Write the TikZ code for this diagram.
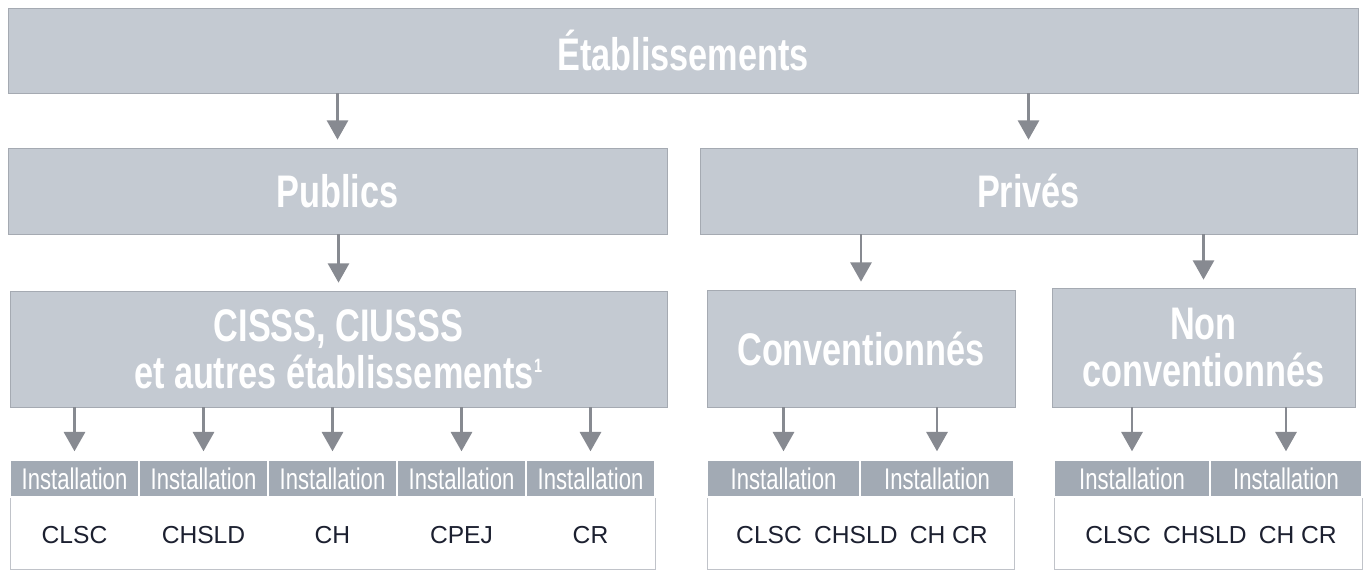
\documentclass[tikz,border=0pt]{standalone}
\usepackage{fontspec}
\setmainfont{Liberation Sans}
\newfontfamily\condfont[FakeStretch=0.75]{Liberation Sans}
\newfontfamily\instfont[FakeStretch=0.74]{Liberation Sans}
\usepackage{tikz}
\usetikzlibrary{arrows.meta}
\definecolor{boxgray}{RGB}{196,202,210}
\definecolor{hdrgray}{RGB}{162,170,180}
\definecolor{edgegray}{RGB}{165,170,178}
\definecolor{arrowgray}{RGB}{135,138,145}
\definecolor{codeblue}{RGB}{28,32,48}
\tikzset{every edge/.style={draw=arrowgray, line width=1.5pt, -{Triangle[width=12pt,length=11pt]}, shorten >=0.16cm}}

\begin{document}
\begin{tikzpicture}[
    levelbox/.style={draw=edgegray, fill=boxgray, text=white, inner sep=0pt, align=center,
      font=\condfont\bfseries\fontsize{26}{27}\selectfont},
    insthead/.style={draw=white, line width=0.8pt, fill=hdrgray, text=white, inner sep=0pt,
      minimum height=0.74cm, font=\instfont\fontsize{17}{18}\selectfont},
    instbody/.style={draw=edgegray!70, fill=white, inner sep=0pt, minimum height=1.44cm},
    code/.style={text=codeblue, font=\fontsize{14}{16}\selectfont}]
  \useasboundingbox (0,0) rectangle (27.28,-11.42);

  % levels
  \node[levelbox, minimum width=27.00cm, minimum height=1.70cm] at (13.66,-1.01) (etab) {Établissements};
  \node[levelbox, minimum width=13.18cm, minimum height=1.72cm] at (6.75,-3.82)  (pub)  {Publics};
  \node[levelbox, minimum width=13.14cm, minimum height=1.72cm] at (20.57,-3.82) (prv)  {Privés};
  \node[levelbox, minimum width=13.14cm, minimum height=2.32cm] at (6.77,-6.98)  (cis)  {CISSS, CIUSSS\\et autres établissements\textsuperscript{\fontsize{11}{11}\selectfont 1}};
  \node[levelbox, minimum width=6.16cm,  minimum height=2.34cm] at (17.22,-6.97) (conv) {Conventionnés};
  \node[levelbox, minimum width=6.06cm,  minimum height=2.38cm] at (24.07,-6.95) (ncv)  {Non\\conventionnés};

  % installations
  \node[instbody, minimum width=12.90cm] at (6.65,-10.66)  (cisbody)  {};
  \node[instbody, minimum width=6.14cm]  at (17.21,-10.66) (convbody) {};
  \node[instbody, minimum width=6.16cm]  at (24.16,-10.66) (ncvbody)  {};

  \node[insthead, minimum width=2.58cm] at (1.49,-9.57)  (i1) {Installation};
  \node[insthead, minimum width=2.58cm] at (4.07,-9.57)  (i2) {Installation};
  \node[insthead, minimum width=2.58cm] at (6.65,-9.57)  (i3) {Installation};
  \node[insthead, minimum width=2.58cm] at (9.23,-9.57)  (i4) {Installation};
  \node[insthead, minimum width=2.58cm] at (11.81,-9.57) (i5) {Installation};
  \node[insthead, minimum width=3.06cm] at (15.67,-9.57) (c1) {Installation};
  \node[insthead, minimum width=3.08cm] at (18.74,-9.57) (c2) {Installation};
  \node[insthead, minimum width=3.12cm] at (22.64,-9.57) (n1) {Installation};
  \node[insthead, minimum width=3.04cm] at (25.72,-9.57) (n2) {Installation};

  \node[code] at (1.49,-10.70)  (t1) {CLSC};
  \node[code] at (4.07,-10.70)  (t2) {CHSLD};
  \node[code] at (6.65,-10.70)  (t3) {CH};
  \node[code] at (9.23,-10.70)  (t4) {CPEJ};
  \node[code] at (11.81,-10.70) (t5) {CR};
  \node[code] at (17.24,-10.70) (tc) {CLSC\enspace CHSLD\enspace CH CR};
  \node[code] at (24.22,-10.70) (tn) {CLSC\enspace CHSLD\enspace CH CR};

  % arrows
  \draw (etab.south -| pub.north) edge (pub.north);
  \draw (etab.south -| prv.north) edge (prv.north);
  \draw (pub.south -| cis.north) edge (cis.north);
  \draw (prv.south -| conv.north) edge (conv.north);
  \draw (prv.south -| ncv.north) edge (ncv.north);
  \draw (cis.south -| i1.north) edge (i1.north);
  \draw (cis.south -| i2.north) edge (i2.north);
  \draw (cis.south -| i3.north) edge (i3.north);
  \draw (cis.south -| i4.north) edge (i4.north);
  \draw (cis.south -| i5.north) edge (i5.north);
  \draw (conv.south -| c1.north) edge (c1.north);
  \draw (conv.south -| c2.north) edge (c2.north);
  \draw (ncv.south -| n1.north) edge (n1.north);
  \draw (ncv.south -| n2.north) edge (n2.north);
\end{tikzpicture}
\end{document}
